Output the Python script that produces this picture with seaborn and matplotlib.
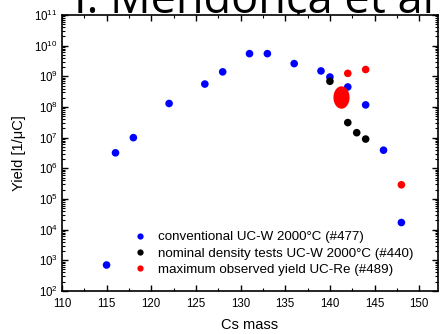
import numpy as np
import pandas as pd
import matplotlib
matplotlib.use("Agg")
import matplotlib.pyplot as plt
import seaborn as sns
from matplotlib.ticker import LogLocator, MultipleLocator, NullFormatter
from matplotlib.lines import Line2D
from matplotlib.path import Path

# ---- data ----
conv_mass = [115, 116, 118, 122, 126, 128, 131, 133, 136, 139, 140, 142, 144, 146, 148]
conv_yield = [7e2, 3.2e6, 1.0e7, 1.3e8, 5.6e8, 1.4e9, 5.5e9, 5.5e9, 2.6e9, 1.5e9, 9.5e8, 4.5e8, 1.17e8, 3.9e6, 1.7e4]

nom_mass = [140, 142, 143, 144]
nom_yield = [6.9e8, 3.1e7, 1.45e7, 9e6]

max_mass = [142, 144, 148]
max_yield = [1.25e9, 1.67e9, 2.9e5]

big_mass = [141.2]
big_yield = [2.1e8]

labels = ["conventional UC-W 2000°C (#477)",
          "nominal density tests UC-W 2000°C (#440)",
          "maximum observed yield UC-Re (#489)"]
colors = ["#0000ff", "#000000", "#ff0000"]

df = pd.concat([
    pd.DataFrame({"mass": conv_mass, "yield": conv_yield, "series": labels[0]}),
    pd.DataFrame({"mass": nom_mass, "yield": nom_yield, "series": labels[1]}),
    pd.DataFrame({"mass": max_mass, "yield": max_yield, "series": labels[2]}),
])
big = pd.DataFrame({"mass": big_mass, "yield": big_yield})

plt.rcParams["font.family"] = ["Liberation Sans", "DejaVu Sans"]
plt.rcParams["mathtext.fontset"] = "custom"
plt.rcParams["mathtext.rm"] = "Liberation Sans"

fig = plt.figure(figsize=(4.42, 3.34), dpi=100)
ax = fig.add_axes([0.140, 0.129, 0.851, 0.826])

sns.scatterplot(data=df, x="mass", y="yield", hue="series", hue_order=labels,
                palette=colors, s=30, linewidth=0, legend=False, ax=ax, zorder=3)

# ellipse-shaped large marker
t = np.linspace(0, 2 * np.pi, 60)
ell = Path(np.column_stack([0.72 * np.cos(t), np.sin(t)]))
sns.scatterplot(data=big, x="mass", y="yield", color=colors[2], marker=ell,
                s=260, linewidth=0, legend=False, ax=ax, zorder=3)

ax.set_yscale("log")
ax.set_xlim(110, 152.1)
ax.set_ylim(1e2, 1e11)

ax.xaxis.set_major_locator(MultipleLocator(5))
ax.xaxis.set_minor_locator(MultipleLocator(2.5))
ax.yaxis.set_major_locator(LogLocator(base=10, numticks=20))
ax.yaxis.set_minor_locator(LogLocator(base=10, subs=np.arange(2, 10), numticks=20))
ax.yaxis.set_minor_formatter(NullFormatter())

ax.tick_params(which="both", direction="in", top=True, right=True, labelsize=8.3)
ax.tick_params(axis="x", pad=5)
ax.tick_params(axis="y", pad=3)
ax.tick_params(which="major", length=4, width=1)
ax.tick_params(which="minor", length=2, width=0.8)
for s in ax.spines.values():
    s.set_linewidth(1.2)

ax.set_xlabel("Cs mass", fontsize=10.5, labelpad=6)
ax.set_ylabel("Yield [1/μC]", fontsize=10.5, labelpad=6)

handles = [Line2D([0], [0], marker="o", linestyle="none", markersize=4.5,
                  markerfacecolor=c, markeredgewidth=0) for c in colors]
ax.legend(handles, labels, loc="lower left", bbox_to_anchor=(0.164, 0.02),
          frameon=False, fontsize=9.6, handletextpad=0.85, labelspacing=0.3,
          handlelength=1.0, borderpad=0.2)

fig.text(0.575, 1 - 13 / 334, "I. Mendonça et al", fontsize=32.5, ha="center",
         va="baseline", family=["Open Sans", "DejaVu Sans"], zorder=-1)

fig.savefig("out.png", dpi=100)
